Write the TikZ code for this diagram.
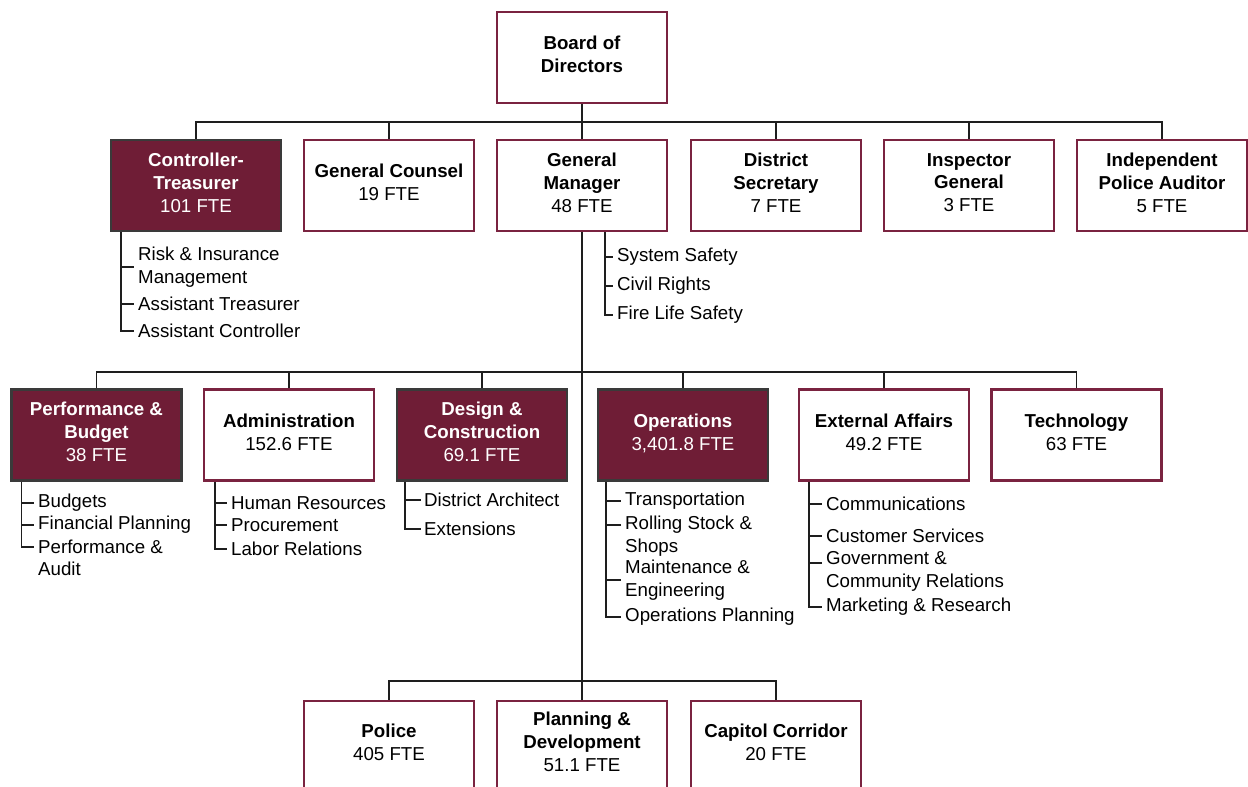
\documentclass[tikz,border=0pt]{standalone}
\usepackage{fontspec}
\setmainfont{Liberation Sans}
\usetikzlibrary{positioning}
\definecolor{bartred}{RGB}{111,29,54}
\definecolor{bartedge}{RGB}{122,35,64}
\definecolor{darkedge}{RGB}{58,58,58}
\definecolor{wirecol}{RGB}{30,30,30}

\begin{document}
\begin{tikzpicture}[x=1pt,y=-1pt,
    unit/.style={draw=bartedge,line width=2.2pt,fill=white,minimum width=170pt,
      minimum height=91pt,text depth=6pt,align=center,
      font=\fontsize{18.7}{22.8}\selectfont},
    hot/.style={unit,fill=bartred,draw=darkedge,text=white},
    sub/.style={anchor=west,inner sep=0pt,align=left,font=\fontsize{18.7}{22.5}\selectfont},
    wire/.style={draw=wirecol,line width=1.8pt}]
  \useasboundingbox (0,0) rectangle (1248,787);
  \clip (0,0) rectangle (1248,787);

  % board and first row
  \node[unit] (board) at (582,57.5) {\textbf{Board of}\\\textbf{Directors}};
  \node[hot] (ct) at (196,185.5) {\textbf{Controller-}\\\textbf{Treasurer}\\101 FTE};
  \node[unit] (gc) at (389,185.5) {\textbf{General Counsel}\\19 FTE};
  \node[unit] (gm) at (582,185.5) {\textbf{General}\\\textbf{Manager}\\48 FTE};
  \node[unit] (ds) at (776,185.5) {\textbf{District}\\\textbf{Secretary}\\7 FTE};
  \node[unit] (ig) at (969,185.5) {\textbf{Inspector}\\\textbf{General}\\3 FTE};
  \node[unit] (ipa) at (1162,185.5) {\textbf{Independent}\\\textbf{Police Auditor}\\5 FTE};

  \coordinate (bus1) at (582,122);
  \draw[wire] (board.south) -- (bus1);
  \foreach \n in {ct,gc,gm,ds,ig,ipa}
    \draw[wire] (\n.north) |- (bus1);

  % second row
  \begin{scope}[every node/.append style={minimum height=87pt}]
    \node[hot] (pb) at (96.5,435) {\textbf{Performance \&}\\\textbf{Budget}\\38 FTE};
    \node[unit] (adm) at (289,435) {\textbf{Administration}\\152.6 FTE};
    \node[hot] (dc) at (482,435) {\textbf{Design \&}\\\textbf{Construction}\\69.1 FTE};
    \node[hot] (ops) at (683,435) {\textbf{Operations}\\3,401.8 FTE};
    \node[unit] (ext) at (884,435) {\textbf{External Affairs}\\49.2 FTE};
    \node[unit] (tech) at (1076.5,435) {\textbf{Technology}\\63 FTE};
  \end{scope}

  % third row
  \node[unit,minimum height=88pt] (pol) at (389,745) {\textbf{Police}\\405 FTE};
  \node[unit,minimum height=88pt] (pd) at (582,745) {\textbf{Planning \&}\\\textbf{Development}\\51.1 FTE};
  \node[unit,minimum height=88pt] (cap) at (776,745) {\textbf{Capitol Corridor}\\20 FTE};

  \coordinate (bus2) at (582,372);
  \coordinate (bus3) at (582,681);
  \draw[wire] (gm.south) -- (bus3);
  \foreach \n in {pb,adm,dc,ops,ext,tech}
    \draw[wire] (\n.north) |- (bus2);
  \foreach \n in {pol,pd,cap}
    \draw[wire] (\n.north) |- (bus3);

  % sub units
  \node[sub] (risk) at (138,267) {Risk \& Insurance\\Management};
  \node[sub] (atr) at (138,304) {Assistant Treasurer};
  \node[sub] (acn) at (138,331) {Assistant Controller};
  \coordinate (ct-sp) at ([xshift=11pt]ct.south west);
  \draw[wire] (ct-sp) |- ([xshift=-4pt]acn.west);
  \foreach \n in {risk,atr}
    \draw[wire] (ct-sp |- \n.west) -- ([xshift=-4pt]\n.west);

  \node[sub] (ss) at (617,257) {System Safety};
  \node[sub] (cr) at (617,286) {Civil Rights};
  \node[sub] (fls) at (617,315) {Fire Life Safety};
  \coordinate (gm-sp) at ([xshift=23pt]gm.south);
  \draw[wire] (gm-sp) |- ([xshift=-4pt]fls.west);
  \foreach \n in {ss,cr}
    \draw[wire] (gm-sp |- \n.west) -- ([xshift=-4pt]\n.west);

  \node[sub] (bud) at (38,503) {Budgets};
  \node[sub] (fin) at (38,525) {Financial Planning};
  \node[sub] (pa) at (38,558) {Performance \&\\Audit};
  \coordinate (pb-sp) at ([xshift=11pt]pb.south west);
  \draw[wire] (pb-sp) |- ([xshift=-4pt,yshift=11pt]pa.west);
  \foreach \n in {bud,fin}
    \draw[wire] (pb-sp |- \n.west) -- ([xshift=-4pt]\n.west);

  \node[sub] (hr) at (231,503) {Human Resources};
  \node[sub] (proc) at (231,525) {Procurement};
  \node[sub] (lab) at (231,549) {Labor Relations};
  \coordinate (adm-sp) at ([xshift=12pt]adm.south west);
  \draw[wire] (adm-sp) |- ([xshift=-4pt]lab.west);
  \foreach \n in {hr,proc}
    \draw[wire] (adm-sp |- \n.west) -- ([xshift=-4pt]\n.west);

  \node[sub] (da) at (424,500) {District Architect};
  \node[sub] (extn) at (424,529) {Extensions};
  \coordinate (dc-sp) at ([xshift=9pt]dc.south west);
  \draw[wire] (dc-sp) |- ([xshift=-3pt]extn.west);
  \draw[wire] (dc-sp |- da.west) -- ([xshift=-3pt]da.west);

  \node[sub] (tr) at (625,501) {Transportation};
  \node[sub] (rs) at (625,536) {Rolling Stock \&\\Shops};
  \node[sub] (me) at (625,580) {Maintenance \&\\Engineering};
  \node[sub] (op) at (625,617) {Operations Planning};
  \coordinate (ops-sp) at ([xshift=9pt]ops.south west);
  \draw[wire] (ops-sp) |- ([xshift=-4pt]op.west);
  \draw[wire] (ops-sp |- tr.west) -- ([xshift=-4pt]tr.west);
  \draw[wire] (ops-sp |- me.west) -- ([xshift=-4pt]me.west);
  \draw[wire] ([xshift=-4pt,yshift=11pt]rs.west) -- (ops-sp |- 0,525);

  \node[sub] (com) at (826,504) {Communications};
  \node[sub] (cs) at (826,536) {Customer Services};
  \node[sub] (gov) at (826,571.5) {Government \&\\Community Relations};
  \node[sub] (mr) at (826,607) {Marketing \& Research};
  \coordinate (ext-sp) at ([xshift=11pt]ext.south west);
  \draw[wire] (ext-sp) |- ([xshift=-4pt]mr.west);
  \foreach \n in {com,cs}
    \draw[wire] (ext-sp |- \n.west) -- ([xshift=-4pt]\n.west);
  \draw[wire] ([xshift=-4pt,yshift=8.5pt]gov.west) -- (ext-sp |- 0,563);
\end{tikzpicture}
\end{document}
